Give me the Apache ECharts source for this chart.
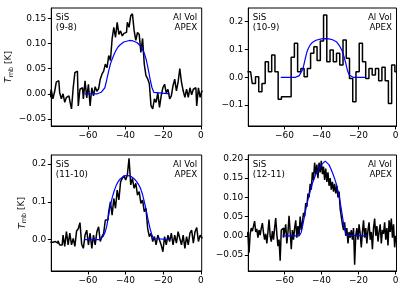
<!DOCTYPE html>
<html><head><meta charset="utf-8">
<script src="https://cdn.jsdelivr.net/npm/echarts@6/dist/echarts.min.js"></script>
<style>html,body{margin:0;padding:0;background:#fff}#c{width:407px;height:287px}</style>
</head><body><div id="c"></div>
<script>
// ---- data ----
const lineNames = ['SiS\n(9-8)', 'SiS\n(10-9)', 'SiS\n(11-10)', 'SiS\n(12-11)'];
const telescopeText = 'Al Vol\nAPEX';
const xTicks = [-60, -40, -20, 0];

const vel1Start = -80, vel1Step = 0.9;
const tmb1 = [-0.007,0.009,-0.01,0.004,0.023,0.026,0.002,-0.01,0.0,-0.017,
 -0.007,-0.004,-0.014,-0.03,0.012,0.042,0.045,-0.024,0.009,0.012,
 -0.01,0.026,-0.008,0.019,-0.024,0.012,-0.004,0.014,0.005,0.01,
 0.029,0.039,0.045,0.059,0.052,0.076,0.066,0.109,0.132,0.112,
 0.142,0.118,0.125,0.115,0.12,0.122,0.142,0.132,0.155,0.159,
 0.126,0.106,0.122,0.118,0.082,0.11,0.059,0.036,0.03,0.02,
 -0.024,-0.03,-0.01,-0.017,0.002,-0.027,-0.004,0.012,0.019,0.002,
 0.009,-0.01,-0.004,0.016,0.029,0.006,0.023,0.05,0.023,0.006,
 -0.007,0.009,-0.007,0.012,-0.002,0.009,0.012,-0.024,0.012,-0.007,
 0.005];
const fitVel1 = [-61.7,-55,-54,-53,-52,-51,-50,-49,-48,-47,-46,-45,-44,-43,-42,-41,-40,-38,-36,-35,-34,-33,-32,-31,-30,-29,-28,-27,-26,-25,-24,-16.5];
const fit1 = [0,0,0.001,0.003,0.006,0.012,0.028,0.045,0.06,0.07,0.079,0.087,0.093,0.097,0.1,0.103,0.105,0.106,0.105,0.104,0.102,0.099,0.095,0.088,0.08,0.068,0.05,0.03,0.013,0.003,0,0];

const vel2Start = -80, vel2Step = 1.75;
const tmb2 = [0.02,0.02,-0.022,0.002,-0.052,-0.022,0.056,0.02,0.08,0.02,
 -0.079,-0.07,-0.07,-0.07,0.072,0.122,0.02,0.032,0.002,0.032,
 0.086,0.11,0.06,0.13,0.224,0.056,0.098,0.056,0.086,0.044,
 0.134,0.068,-0.004,-0.088,0.02,0.122,0.056,-0.004,0.032,0.008,
 0.032,-0.012,0.036,-0.012,-0.094,0.044,0.02];
const fitVel2 = [-62,-54,-53,-52,-51,-50,-49,-48,-47,-46,-45,-44,-43,-42,-40,-38,-36,-34,-33,-32,-31,-30,-29,-28,-27,-26,-25,-24,-23,-16];
const fit2 = [0,0,0.002,0.006,0.012,0.03,0.06,0.088,0.105,0.117,0.125,0.13,0.133,0.135,0.138,0.139,0.138,0.135,0.133,0.128,0.12,0.11,0.097,0.078,0.054,0.025,0.008,0.001,0,0];

const vel3Start = -80, vel3Step = 0.9;
const tmb3 = [-0.007,-0.007,-0.005,-0.005,-0.009,-0.003,-0.014,-0.014,0.012,-0.018,
 0.021,-0.014,0.017,-0.014,0.003,-0.018,0.023,0.029,0.045,-0.012,
 -0.023,0.012,0.025,-0.014,0.017,-0.023,0.012,-0.014,0.021,0.034,
 -0.005,0.008,0.017,0.052,0.052,0.074,0.1,0.065,0.109,0.083,
 0.131,0.105,0.153,0.162,0.169,0.158,0.171,0.215,0.145,0.162,
 0.136,0.149,0.118,0.127,0.096,0.105,0.074,0.083,0.03,0.008,
 0.017,-0.005,0.008,-0.014,0.012,-0.001,-0.014,-0.032,0.008,-0.014,
 0.012,-0.005,0.017,-0.014,0.012,-0.009,0.021,0.003,-0.014,0.012,
 -0.023,0.008,-0.014,0.017,0.025,-0.009,0.021,0.032,-0.005,0.012,
 0.005];
const fitVel3 = [-62,-54,-53,-52,-51,-50,-49,-48,-47,-46,-45,-44,-43,-42,-41,-40,-39,-38,-37,-36,-35,-34,-33,-32,-31,-30,-29,-28,-27,-26,-25,-24,-16.5];
const fit3 = [0,0,0.002,0.008,0.018,0.035,0.065,0.092,0.113,0.13,0.143,0.153,0.16,0.165,0.168,0.17,0.17,0.169,0.167,0.164,0.159,0.153,0.145,0.135,0.12,0.1,0.077,0.052,0.03,0.012,0.003,0,0];

const vel4Start = -80, vel4Step = 0.6;
const tmb4 = [0.0,0.01,-0.044,0.005,0.02,0.012,0.025,0.038,0.01,0.018,
 -0.005,0.015,0.002,0.02,0.033,0.008,-0.01,0.005,-0.02,0.01,
 0.042,0.0,-0.015,0.012,-0.01,0.02,0.046,0.005,-0.027,-0.01,
 -0.065,0.015,0.02,-0.005,0.01,0.03,-0.02,0.008,0.052,0.01,
 -0.035,0.015,-0.01,0.02,0.04,-0.005,0.025,0.0,0.05,0.015,
 0.035,0.06,0.05,0.085,0.075,0.11,0.1,0.135,0.12,0.165,
 0.145,0.19,0.16,0.185,0.15,0.19,0.165,0.195,0.16,0.18,
 0.145,0.175,0.14,0.165,0.13,0.15,0.12,0.14,0.115,0.135,
 0.11,0.13,0.1,0.115,0.07,0.05,0.03,0.015,0.035,0.0,
 0.02,-0.02,0.01,-0.005,0.015,-0.01,0.02,-0.075,0.0,0.02,
 -0.01,0.03,0.005,-0.03,0.01,0.04,-0.005,0.02,-0.02,0.015,
 0.035,-0.01,0.01,-0.035,0.02,0.045,0.0,0.025,-0.015,0.01,
 0.03,-0.02,0.015,0.005,0.035,-0.01,0.02,-0.025,0.04,0.01,
 0.045,-0.005,0.03,-0.03,0.0];
const fitVel4 = [-61,-52,-51,-50,-49,-48,-47,-46,-45,-44,-43,-42,-41,-40,-39,-38,-37,-36,-35,-34,-33,-32,-31,-30,-29,-28,-27,-26,-25,-15.5];
const fit4 = [0,0,0.008,0.03,0.055,0.08,0.1,0.118,0.135,0.148,0.16,0.168,0.178,0.185,0.19,0.194,0.193,0.185,0.175,0.163,0.15,0.135,0.115,0.09,0.06,0.03,0.008,0.001,0,0];

const yTicks1 = [-0.05, 0, 0.05, 0.1, 0.15];
const yTicks2 = [-0.1, 0, 0.1, 0.2];
const yTicks3 = [0, 0.1, 0.2];
const yTicks4 = [-0.05, 0, 0.05, 0.1, 0.15, 0.2];

// ---- layout ----
const panels = [
  {start: vel1Start, step: vel1Step, t: tmb1, fv: fitVel1, f: fit1, yt: yTicks1, dec: 2, ymin: -0.064, ymax: 0.1705,
   grid: {left: 51.3, top: 8, width: 150.4, height: 118}, ylabel: true, gap: 30},
  {start: vel2Start, step: vel2Step, t: tmb2, fv: fitVel2, f: fit2, yt: yTicks2, dec: 1, ymin: -0.175, ymax: 0.249,
   grid: {left: 248.3, top: 8, width: 148.2, height: 118}, ylabel: false},
  {start: vel3Start, step: vel3Step, t: tmb3, fv: fitVel3, f: fit3, yt: yTicks3, dec: 1, ymin: -0.083, ymax: 0.224,
   grid: {left: 51.3, top: 155, width: 150.4, height: 116}, ylabel: true, gap: 20},
  {start: vel4Start, step: vel4Step, t: tmb4, fv: fitVel4, f: fit4, yt: yTicks4, dec: 2, ymin: -0.0915, ymax: 0.21,
   grid: {left: 248.3, top: 155, width: 148.2, height: 116}, ylabel: false}
];

const FONT = 'DejaVu Sans';
const TICKFS = 9;
const fmtNum = (v, d) => (v < -1e-9 ? '\u2212' : '') + Math.abs(v).toFixed(d);

const option = {
  animation: false,
  backgroundColor: '#fff',
  grid: [], xAxis: [], yAxis: [], series: [], graphic: []
};

panels.forEach((p, k) => {
  option.grid.push(Object.assign({show: true, borderColor: '#000', borderWidth: 1, backgroundColor: 'transparent'}, p.grid));
  option.xAxis.push({
    type: 'value', gridIndex: k, min: -79.5, max: 0.5,
    axisLine: {show: true, onZero: false, lineStyle: {color: '#000', width: 1}},
    axisTick: {show: true, inside: false, length: 3.5, customValues: xTicks, lineStyle: {color: '#000', width: 1}},
    axisLabel: {show: true, customValues: xTicks, margin: 5, fontSize: TICKFS, fontFamily: FONT, color: '#000',
      formatter: v => fmtNum(v, 0)},
    splitLine: {show: false}
  });
  const ya = {
    type: 'value', gridIndex: k, min: p.ymin, max: p.ymax,
    axisLine: {show: true, onZero: false, lineStyle: {color: '#000', width: 1}},
    axisTick: {show: true, inside: false, length: 3.5, customValues: p.yt, lineStyle: {color: '#000', width: 1}},
    axisLabel: {show: true, customValues: p.yt, margin: 5, fontSize: TICKFS, fontFamily: FONT, color: '#000',
      formatter: v => fmtNum(v, p.dec)},
    splitLine: {show: false}
  };
  if (p.ylabel) {
    ya.name = '{i|T}{s|mb}{n| [K]}';
    ya.nameLocation = 'middle';
    ya.nameGap = p.gap;
    ya.nameRotate = 90;
    ya.nameTextStyle = {color: '#000', fontFamily: FONT, fontSize: 9,
      rich: {
        i: {fontStyle: 'italic', fontSize: 9.5, fontFamily: FONT, color: '#000', lineHeight: 12, verticalAlign: 'middle'},
        s: {fontSize: 6.5, fontFamily: FONT, color: '#000', lineHeight: 6, verticalAlign: 'bottom'},
        n: {fontSize: 9, fontFamily: FONT, color: '#000', lineHeight: 12, verticalAlign: 'middle'}
      }};
  }
  option.yAxis.push(ya);
  const obs = p.t.map((y, i) => [p.start + p.step * i, y]);
  option.series.push({
    type: 'line', xAxisIndex: k, yAxisIndex: k, data: obs, step: 'middle',
    showSymbol: false, symbol: 'none', clip: true,
    lineStyle: {color: '#000', width: 1.5}, z: 2
  });
  option.series.push({
    type: 'line', xAxisIndex: k, yAxisIndex: k, data: p.fv.map((v, i) => [v, p.f[i]]),
    showSymbol: false, symbol: 'none', clip: true,
    lineStyle: {color: '#0000ff', width: 1.2}, z: 3
  });
  const g = p.grid;
  option.graphic.push({
    type: 'text', left: g.left + 4.5, top: g.top + 4, z: 10,
    style: {text: lineNames[k], font: '8.7px "DejaVu Sans"', fill: '#000', lineHeight: 10.5}
  });
  option.graphic.push({
    type: 'text', right: 407 - (g.left + g.width) + 4.5, top: g.top + 4, z: 10,
    style: {text: telescopeText, font: '8.7px "DejaVu Sans"', fill: '#000', lineHeight: 10.5, textAlign: 'right'}
  });
});

const chart = echarts.init(document.getElementById('c'), null, {renderer: 'canvas'});
chart.setOption(option);
</script>
</body></html>
